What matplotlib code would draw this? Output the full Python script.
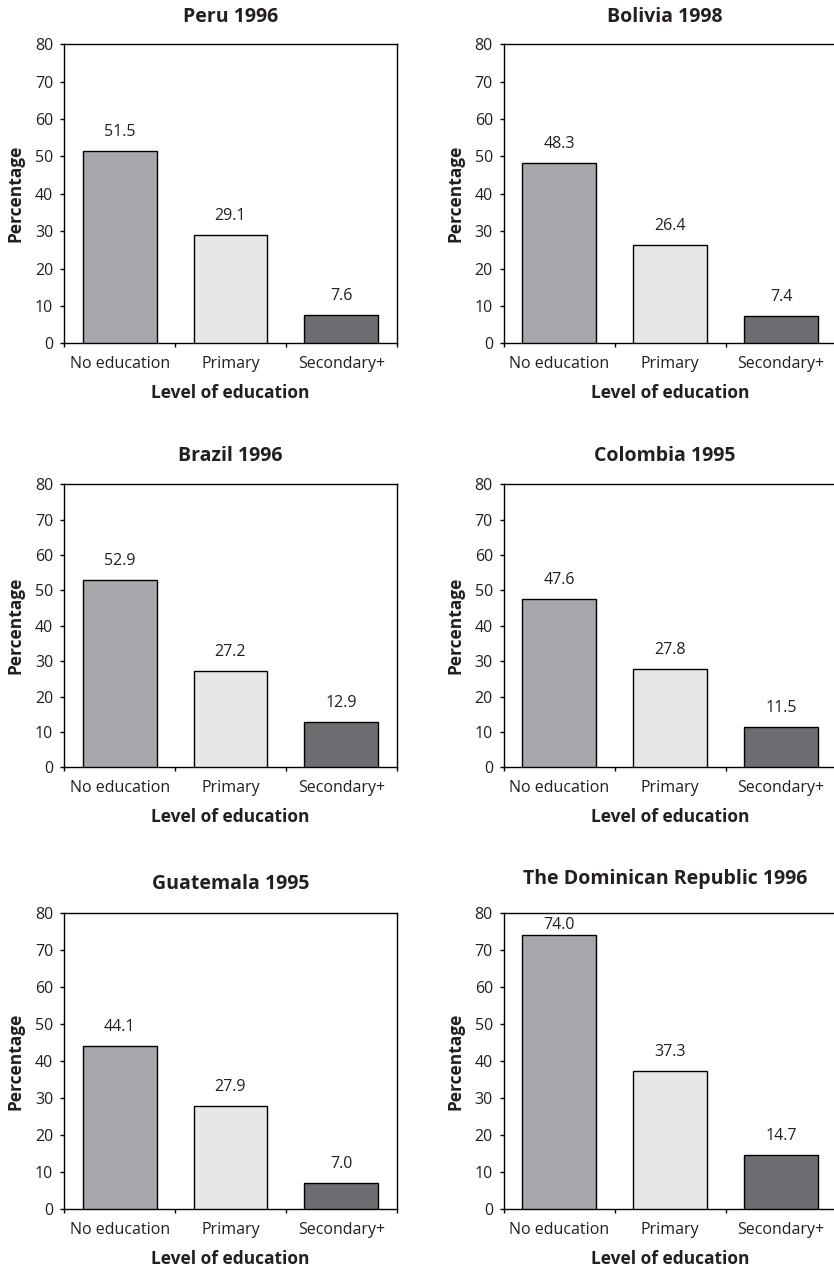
import matplotlib
matplotlib.use("Agg")
import matplotlib.pyplot as plt

plt.rcParams["font.family"] = ["Open Sans", "DejaVu Sans"]

categories = ["No education", "Primary", "Secondary+"]
titles = ["Peru 1996", "Bolivia 1998", "Brazil 1996",
          "Colombia 1995", "Guatemala 1995", "The Dominican Republic 1996"]
peru = [51.5, 29.1, 7.6]
bolivia = [48.3, 26.4, 7.4]
brazil = [52.9, 27.2, 12.9]
colombia = [47.6, 27.8, 11.5]
guatemala = [44.1, 27.9, 7.0]
dominican = [74.0, 37.3, 14.7]
panels = [peru, bolivia, brazil, colombia, guatemala, dominican]
y_ticks = [0, 10, 20, 30, 40, 50, 60, 70, 80]

bar_colors = ["#a7a8ab", "#e6e7e8", "#6d6e71"]
text_color = "#231f20"

W, H = 834, 1267
fig = plt.figure(figsize=(W / 100, H / 100), dpi=100)

# panel boxes in pixels: (left, right) per column, (top, bottom) per row
col_x = [(64.3, 396.7), (504.0, 836.4)]
row_y = [(44.3, 343.3), (484.3, 767.3), (913.0, 1209.0)]
title_pads = [[16, 16], [17, 17], [17, 21]]

tick_fs = 11.5
label_fs = 12.5
title_fs = 14

for i, (vals, title) in enumerate(zip(panels, titles)):
    r, c = divmod(i, 2)
    x0, x1 = col_x[c]
    yt, yb = row_y[r]
    ax = fig.add_axes([x0 / W, 1 - yb / H, (x1 - x0) / W, (yb - yt) / H])
    xs = range(len(categories))
    ax.bar(xs, vals, width=0.667, color=bar_colors, edgecolor="black",
           linewidth=1.0, zorder=3)
    for x, v in zip(xs, vals):
        off = 13.5 if v + 5.2 < 77 else 7.0
        ax.annotate(f"{v:.1f}", (x, v), xytext=(0, off), textcoords="offset points",
                    ha="center", va="center", fontsize=tick_fs, color=text_color)
    ax.set_xlim(-0.5, 2.5)
    ax.set_ylim(0, 80)
    ax.set_yticks(y_ticks)
    ax.set_xticks([-0.5, 0.5, 1.5, 2.5])
    ax.set_xticklabels([])
    ax.set_xticks(list(xs), minor=True)
    ax.set_xticklabels(categories, minor=True)
    ax.tick_params(axis="x", which="minor", length=0, pad=9,
                   labelsize=tick_fs, labelcolor=text_color)
    ax.tick_params(axis="x", which="major", length=3, width=1.0, direction="out")
    ax.tick_params(axis="y", length=3, width=1.0, direction="out", pad=5,
                   labelsize=tick_fs, labelcolor=text_color)
    for s in ax.spines.values():
        s.set_linewidth(1.0)
        s.set_color("black")
    ax.set_ylabel("Percentage", fontsize=label_fs, fontweight="bold",
                  color=text_color, va="center")
    ax.yaxis.set_label_coords(-49 / (x1 - x0), 0.5)
    ax.set_xlabel("Level of education", fontsize=label_fs, fontweight="bold",
                  color=text_color, va="center")
    ax.xaxis.set_label_coords(0.5, -50 / (yb - yt))
    ax.set_title(title, fontsize=title_fs, fontweight="bold", color=text_color,
                 pad=title_pads[r][c], x=0.5 if c == 0 else 0.484)

fig.savefig("out.png", dpi=100, facecolor="white")
